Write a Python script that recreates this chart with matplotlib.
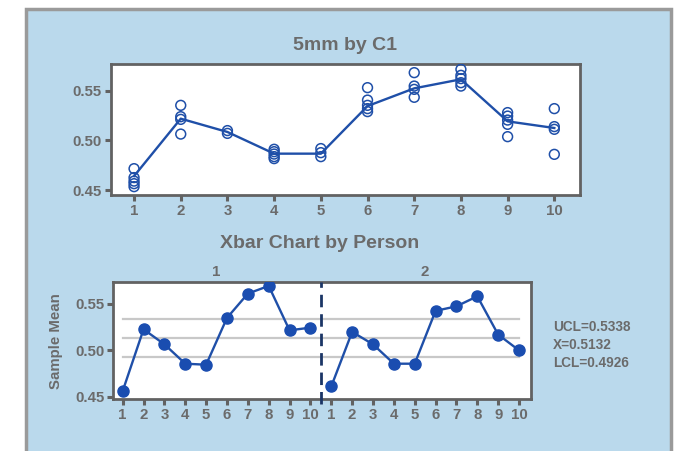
import matplotlib
matplotlib.use("Agg")
import matplotlib.pyplot as plt
from matplotlib.patches import Rectangle
import numpy as np

plt.rcParams['font.family'] = ['Liberation Sans', 'DejaVu Sans']
plt.rcParams['font.weight'] = 'bold'

# ---- data ----
parts = list(range(1, 11))

# individual measurements of 5mm for each part (C1)
measurements = [
    [0.4715, 0.4625, 0.4590, 0.4564, 0.4534],
    [0.5352, 0.5238, 0.5211, 0.5063],
    [0.5098, 0.5070],
    [0.4910, 0.4886, 0.4862, 0.4836, 0.4816],
    [0.4917, 0.4876, 0.4836],
    [0.5530, 0.5405, 0.5352, 0.5319, 0.5289],
    [0.5681, 0.5546, 0.5513, 0.5433],
    [0.5714, 0.5654, 0.5621, 0.5580, 0.5546],
    [0.5279, 0.5244, 0.5204, 0.5161, 0.5037],
    [0.5319, 0.5138, 0.5111, 0.4859],
]
part_means = [0.4640, 0.5218, 0.5084, 0.4866, 0.4866,
              0.5345, 0.5523, 0.5614, 0.5191, 0.5124]

persons = ["1", "2"]
xbar_person1 = [0.4561, 0.5227, 0.5065, 0.4856, 0.4845,
                0.5350, 0.5612, 0.5695, 0.5216, 0.5245]
xbar_person2 = [0.4611, 0.5199, 0.5065, 0.4856, 0.4856,
                0.5426, 0.5475, 0.5583, 0.5170, 0.5000]

ucl = 0.5338
center = 0.5132
lcl = 0.4926

# ---- styling ----
bg_blue = '#bad9ec'
text_gray = '#6b6b6b'
frame_gray = '#626262'
line_blue = '#1f4fa8'
point_blue = '#1a4db0'
limit_gray = '#c8c8c8'
tick_size = 10.8
title_size = 14

fig = plt.figure(figsize=(6.87, 4.51), dpi=100)
fig.patch.set_facecolor('white')

# blue backdrop with gray border
fig.patches.append(Rectangle((25.5 / 687, -0.05), (670.5 - 25.5) / 687, 1.05 - 9.5 / 451,
                             transform=fig.transFigure, facecolor=bg_blue,
                             edgecolor='#9a9a9a', linewidth=2.5, zorder=-5))


def style_axes(ax):
    ax.set_facecolor('white')
    for s in ax.spines.values():
        s.set_color(frame_gray)
        s.set_linewidth(2.0)
    ax.tick_params(axis='both', colors=frame_gray, width=2.2, length=4,
                   labelcolor=text_gray, labelsize=tick_size, pad=2.5)
    for lab in ax.get_xticklabels() + ax.get_yticklabels():
        lab.set_fontweight('bold')


# ---- top: 5mm by C1 ----
ax1 = fig.add_axes([110.7 / 687, 1 - 195 / 451, 469.3 / 687, 131 / 451])
for p, vals in zip(parts, measurements):
    ax1.scatter([p] * len(vals), vals, s=50, facecolors='none',
                edgecolors=line_blue, linewidths=1.1, zorder=3)
ax1.plot(parts, part_means, color=line_blue, linewidth=1.7, zorder=2)
ax1.set_xlim(0.5, 10.55)
ax1.set_ylim(0.445, 0.5768)
ax1.set_xticks(parts)
ax1.set_yticks([0.45, 0.50, 0.55])
ax1.set_yticklabels(['0.45', '0.50', '0.55'])
style_axes(ax1)
fig.text(345 / 687, 1 - 45 / 451, '5mm by C1', ha='center', va='center',
         fontsize=title_size, fontweight='bold', color=text_gray)

# ---- bottom: Xbar chart by person ----
ax2 = fig.add_axes([113.3 / 687, 1 - 399.3 / 451, 417.4 / 687, 117 / 451])
n = len(xbar_person1)
x1 = np.arange(1, n + 1)
x2 = np.arange(n + 1, 2 * n + 1)
for lvl in (ucl, center, lcl):
    ax2.plot([1, 2 * n], [lvl, lvl], color=limit_gray, linewidth=1.6, zorder=1)
ax2.plot(x1, xbar_person1, color=line_blue, linewidth=1.7, marker='o',
         markersize=8, markerfacecolor=point_blue, markeredgecolor=point_blue, zorder=3)
ax2.plot(x2, xbar_person2, color=line_blue, linewidth=1.7, marker='o',
         markersize=8, markerfacecolor=point_blue, markeredgecolor=point_blue, zorder=3)
ax2.set_xlim(0.55, 2 * n + 0.56)
ax2.set_ylim(0.4472, 0.5734)
ax2.plot([n + 0.5, n + 0.5], [-0.04, 1.0], transform=ax2.get_xaxis_transform(),
         color='#1b3566', linewidth=2, linestyle=(0, (4.5, 2.5)), clip_on=False, zorder=4)
ax2.set_xticks(np.concatenate([x1, x2]))
ax2.set_xticklabels([str(i) for i in range(1, n + 1)] * 2)
ax2.set_yticks([0.45, 0.50, 0.55])
ax2.set_yticklabels(['0.45', '0.50', '0.55'])
style_axes(ax2)
ax2.set_ylabel('Sample Mean', fontsize=tick_size, fontweight='bold', color=text_gray, labelpad=9)

for name, xs in zip(persons, (x1, x2)):
    ax2.text(xs.mean(), 1.03, name, transform=ax2.get_xaxis_transform(),
             ha='center', va='bottom', fontsize=tick_size, fontweight='bold', color=text_gray)

fig.text(320 / 687, 1 - 243 / 451, 'Xbar Chart by Person', ha='center', va='center',
         fontsize=title_size, fontweight='bold', color=text_gray)

fig.text(553 / 687, 1 - 345 / 451,
         f'UCL={ucl:.4f}\nX={center:.4f}\nLCL={lcl:.4f}',
         ha='left', va='center', fontsize=9.8, fontweight='bold', color=text_gray,
         linespacing=1.35)

fig.savefig('out.png', dpi=100, facecolor=fig.get_facecolor())
